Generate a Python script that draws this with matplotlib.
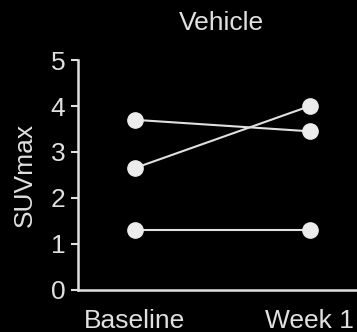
import matplotlib
matplotlib.use("Agg")
import matplotlib.pyplot as plt

timepoints = ['Baseline', 'Week 1']
baseline = [3.7, 2.65, 1.3]
week1 = [3.45, 4.0, 1.3]

fg = '#e0e0e0'
plt.rcParams['font.family'] = ['Liberation Sans', 'DejaVu Sans']

fig = plt.figure(figsize=(3.57, 3.32), dpi=100, facecolor='black')
ax = fig.add_axes([0.218, 0.127, 0.782, 0.692], facecolor='black')

x = list(range(len(timepoints)))
for b, w in zip(baseline, week1):
    ax.plot(x, [b, w], color=fg, lw=1.5, marker='o', ms=11,
            mfc='#ececec', mec='#ececec', zorder=3)

ax.set_xlim(-0.326, 1.269)
ax.set_ylim(0, 5)
ax.set_yticks([0, 1, 2, 3, 4, 5])
ax.set_xticks(x)
ax.set_xticklabels(timepoints)
ax.set_ylabel('SUVmax', color=fg, fontsize=19, labelpad=10)
ax.set_title('Vehicle', color=fg, fontsize=19, pad=22, x=0.513)

for s in ['top', 'right']:
    ax.spines[s].set_visible(False)
for s in ['left', 'bottom']:
    ax.spines[s].set_color(fg)
    ax.spines[s].set_linewidth(1.8)
ax.tick_params(axis='y', colors=fg, labelsize=19, length=5, width=1.5, pad=4)
ax.tick_params(axis='x', colors=fg, labelsize=19, length=0, pad=14)

fig.savefig('out.png', dpi=100, facecolor='black')
